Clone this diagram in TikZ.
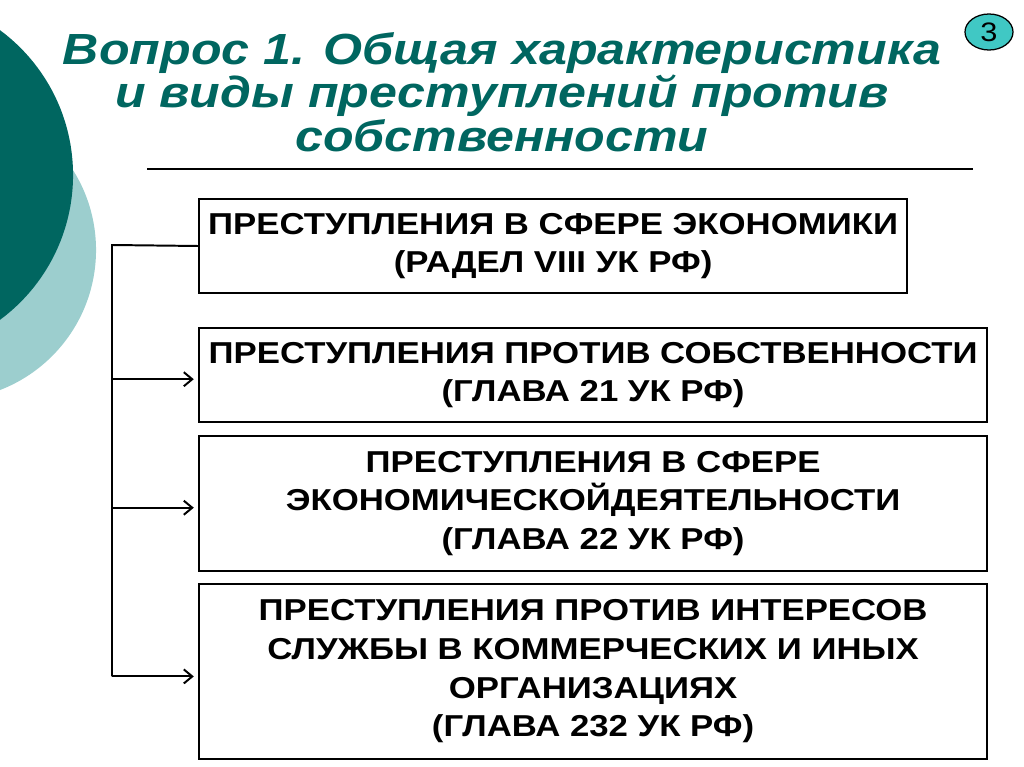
\documentclass[tikz,border=0pt]{standalone}
\usepackage{fontspec}
\setmainfont{Liberation Sans}[FakeStretch=1.15]
\usetikzlibrary{arrows.meta, positioning, shapes.geometric}
\definecolor{darkteal}{RGB}{0,102,96}
\definecolor{lightteal}{RGB}{156,206,206}
\definecolor{badgeteal}{RGB}{64,200,196}

\begin{document}
\begin{tikzpicture}[x=0.025cm, y=-0.025cm,
every node/.style={align=center}, >={Straight Barb[length=6pt, width=10pt]},
  headline/.style={text=darkteal, font=\fontsize{31}{31}\selectfont\bfseries\itshape},
  crimebox/.style={rectangle, draw, line width=1.4pt, minimum height=2.35cm,
    font=\fontsize{21.5}{27.5}\selectfont\bfseries, inner sep=2pt},
  badge/.style={ellipse, draw, fill=badgeteal, line width=0.9pt,
    minimum width=1.2cm, minimum height=0.9cm, inner sep=0pt, font=\fontsize{19}{19}\selectfont},
  link/.style={line width=1.4pt}]

  \clip (0,0) rectangle (1024,767);

  % Decorative circles
  \fill[lightteal] (-54,250) circle (3.75cm);
  \fill[darkteal] (-107,175) circle (4.5cm);

  % Heading
  \node[headline] (title) at (502,92) {Вопрос 1. Общая характеристика\\и виды преступлений против\\собственности};
  \node[badge] (num) at (989,32) {3};
  \draw[line width=1.2pt] (147,169) -- (973,169);

  % Boxes
  \node[crimebox, anchor=north west, minimum width=17.7cm] (econ) at (198,198) {ПРЕСТУПЛЕНИЯ В СФЕРЕ ЭКОНОМИКИ\\(РАДЕЛ VIII УК РФ)};
  \node[crimebox, below=0.825cm of econ.south west, anchor=north west, minimum width=19.7cm] (property) {ПРЕСТУПЛЕНИЯ ПРОТИВ СОБСТВЕННОСТИ\\(ГЛАВА 21 УК РФ)};
  \node[crimebox, below=0.3cm of property.south west, anchor=north west, minimum width=19.7cm, minimum height=3.375cm] (activity) {ПРЕСТУПЛЕНИЯ В СФЕРЕ\\ЭКОНОМИЧЕСКОЙДЕЯТЕЛЬНОСТИ\\(ГЛАВА 22 УК РФ)};
  \node[crimebox, below=0.275cm of activity.south west, anchor=north west, minimum width=19.7cm, minimum height=4.375cm] (service) {ПРЕСТУПЛЕНИЯ ПРОТИВ ИНТЕРЕСОВ\\СЛУЖБЫ В КОММЕРЧЕСКИХ И ИНЫХ\\ОРГАНИЗАЦИЯХ\\(ГЛАВА 232 УК РФ)};

  % Connectors
  \coordinate (trunk) at (112,245);
  \draw[link] (econ.west) -- (trunk) -- ([yshift=-3.5pt]trunk |- service.west);
  \draw[link, ->, shorten >=3pt] ([yshift=-3pt]trunk |- property.west) -- ([yshift=-3pt]property.west);
  \draw[link, ->, shorten >=3pt] ([yshift=-3pt]trunk |- activity.west) -- ([yshift=-3pt]activity.west);
  \draw[link, ->, shorten >=3pt] ([yshift=-3.5pt]trunk |- service.west) -- ([yshift=-3.5pt]service.west);

\end{tikzpicture}
\end{document}
